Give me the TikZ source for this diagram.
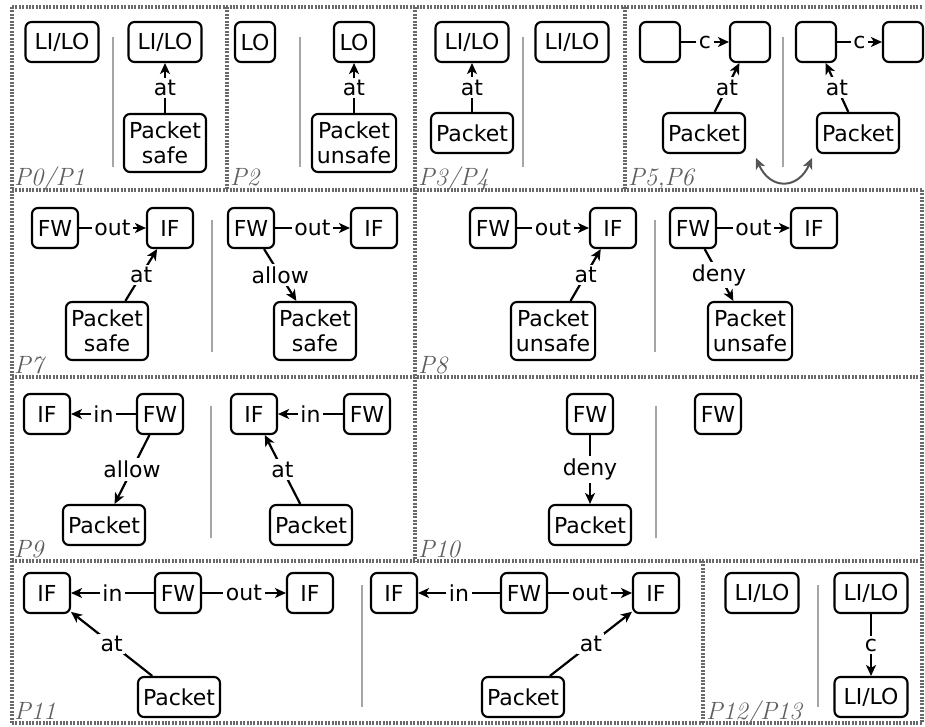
\documentclass[tikz,border=0pt]{standalone}
\usepackage{fontspec}
\newfontfamily\dvs{DejaVu Sans}
\usetikzlibrary{arrows.meta}
\definecolor{framegray}{RGB}{105,105,105}
\definecolor{divgray}{RGB}{165,165,165}
\definecolor{labgray}{RGB}{95,95,95}
\definecolor{swapgray}{RGB}{85,85,85}
\tikzset{
  nbox/.style={draw=black, line width=2.1pt, rounded corners=6pt, fill=white,
    font=\dvs\fontsize{22}{25}\selectfont, align=center,
    inner xsep=5pt, inner ysep=8pt, minimum width=46pt, minimum height=40pt},
  widebox/.style={nbox, minimum width=73pt},
  conn/.style={line width=2.2pt, -{Stealth[length=11pt,width=10pt,inset=3pt]}},
  lbl/.style={fill=white, inner sep=2.5pt, font=\dvs\fontsize{22}{25}\selectfont},
  divider/.style={draw=divgray, line width=1.3pt},
  pframe/.style={draw=framegray, line width=3.2pt, dash pattern=on 2pt off 1.4pt},
  plabel/.style={anchor=base west, text=labgray, inner sep=0pt,
    font=\fontsize{25}{25}\selectfont\itshape},
}
\begin{document}
\begin{tikzpicture}[x=1pt,y=-1pt]
\useasboundingbox (0,0) rectangle (925,727);
% frames
\draw[pframe] (12,7) -- (922,7);
\draw[pframe] (12,7) -- (12,723);
\draw[pframe] (12,723) -- (922,723);
\draw[pframe] (922,190) -- (922,723);
\draw[pframe] (12,190) -- (922,190);
\draw[pframe] (12,377) -- (922,377);
\draw[pframe] (12,561) -- (922,561);
\draw[pframe] (227,7) -- (227,190);
\draw[pframe] (415,7) -- (415,190);
\draw[pframe] (625,7) -- (625,190);
\draw[pframe] (415,190) -- (415,561);
\draw[pframe] (703,561) -- (703,723);
% panel labels
\node[plabel] (l01) at (14,186) {P0/P1};
\node[plabel] (l2) at (230,186) {P2};
\node[plabel] (l34) at (418,186) {P3/P4};
\node[plabel] (l56) at (628,186) {P5,P6};
\node[plabel] (l7) at (14,373) {P7};
\node[plabel] (l8) at (418,373) {P8};
\node[plabel] (l9) at (14,557) {P9};
\node[plabel] (l10) at (418,557) {P10};
\node[plabel] (l11) at (14,719) {P11};
\node[plabel] (l1213) at (706,719) {P12/P13};
% dividers
\draw[divider] (113,37) -- (113,167);
\draw[divider] (300,37) -- (300,167);
\draw[divider] (523,37) -- (523,167);
\draw[divider] (783,37) -- (783,167);
\draw[divider] (212,220) -- (212,352);
\draw[divider] (655,220) -- (655,352);
\draw[divider] (211,406) -- (211,538);
\draw[divider] (656,406) -- (656,538);
\draw[divider] (362,585) -- (362,707);
\draw[divider] (818,585) -- (818,707);
% P0/P1
\node[widebox] (a1) at (62,42) {LI/LO};
\node[widebox] (a2) at (165,42) {LI/LO};
\node[nbox] (a3) at (165,143) {Packet\\safe};
\draw[conn] (a3) -- node[lbl]{at} (a2);
% P2
\node[nbox, minimum width=40pt] (b1) at (255,42) {LO};
\node[nbox, minimum width=40pt] (b2) at (354,42) {LO};
\node[nbox] (b3) at (354,143) {Packet\\unsafe};
\draw[conn] (b3) -- node[lbl]{at} (b2);
% P3/P4
\node[widebox] (c1) at (472,42) {LI/LO};
\node[nbox] (c2) at (472,133) {Packet};
\node[widebox] (c3) at (572,42) {LI/LO};
\draw[conn] (c2) -- node[lbl]{at} (c1);
% P5,P6
\node[nbox, minimum width=40pt] (d1) at (660,42) {};
\node[nbox, minimum width=40pt] (d2) at (750,42) {};
\node[nbox] (d3) at (704,133) {Packet};
\draw[conn] (d1) -- node[lbl]{c} (d2);
\draw[conn] (d3) -- node[lbl]{at} (d2);
\node[nbox, minimum width=40pt] (d4) at (816,42) {};
\node[nbox, minimum width=40pt] (d5) at (903,42) {};
\node[nbox] (d6) at (858,133) {Packet};
\draw[conn] (d4) -- node[lbl]{c} (d5);
\draw[conn] (d6) -- node[lbl]{at} (d4);
\coordinate (sw1) at (756,158);
\coordinate (sw2) at (812,158);
\draw[draw=swapgray, line width=2pt, {Stealth[length=11pt,width=10pt,inset=3pt]}-{Stealth[length=11pt,width=10pt,inset=3pt]}]
  (sw1) .. controls (770,190) and (798,190) .. (sw2);
% P7
\node[nbox] (e1) at (55,228) {FW};
\node[nbox] (e2) at (170,228) {IF};
\node[nbox] (e3) at (107,331) {Packet\\safe};
\draw[conn] (e1) -- node[lbl]{out} (e2);
\draw[conn] (e3) -- node[lbl]{at} (e2);
\node[nbox] (e4) at (251,228) {FW};
\node[nbox] (e5) at (374,228) {IF};
\node[nbox] (e6) at (315,331) {Packet\\safe};
\draw[conn] (e4) -- node[lbl]{out} (e5);
\draw[conn] (e4) -- node[lbl]{allow} (e6);
% P8
\node[nbox] (f1) at (493,228) {FW};
\node[nbox] (f2) at (613,228) {IF};
\node[nbox] (f3) at (553,331) {Packet\\unsafe};
\draw[conn] (f1) -- node[lbl]{out} (f2);
\draw[conn] (f3) -- node[lbl]{at} (f2);
\node[nbox] (f4) at (693,228) {FW};
\node[nbox] (f5) at (814,228) {IF};
\node[nbox] (f6) at (750,331) {Packet\\unsafe};
\draw[conn] (f4) -- node[lbl]{out} (f5);
\draw[conn] (f4) -- node[lbl]{deny} (f6);
% P9
\node[nbox] (g1) at (47,414) {IF};
\node[nbox] (g2) at (160,414) {FW};
\node[nbox] (g3) at (104,525) {Packet};
\draw[conn] (g2) -- node[lbl]{in} (g1);
\draw[conn] (g2) -- node[lbl]{allow} (g3);
\node[nbox] (g4) at (254,414) {IF};
\node[nbox] (g5) at (367,414) {FW};
\node[nbox] (g6) at (311,525) {Packet};
\draw[conn] (g5) -- node[lbl]{in} (g4);
\draw[conn] (g6) -- node[lbl]{at} (g4);
% P10
\node[nbox] (h1) at (590,414) {FW};
\node[nbox] (h2) at (590,525) {Packet};
\draw[conn] (h1) -- node[lbl]{deny} (h2);
\node[nbox] (h3) at (718,414) {FW};
% P11
\node[nbox] (i1) at (47,593) {IF};
\node[nbox] (i2) at (178,593) {FW};
\node[nbox] (i3) at (310,593) {IF};
\node[nbox] (i4) at (179,697) {Packet};
\draw[conn] (i2) -- node[lbl]{in} (i1);
\draw[conn] (i2) -- node[lbl]{out} (i3);
\draw[conn] (i4) -- node[lbl]{at} (i1);
\node[nbox] (i5) at (394,593) {IF};
\node[nbox] (i6) at (524,593) {FW};
\node[nbox] (i7) at (656,593) {IF};
\node[nbox] (i8) at (523,697) {Packet};
\draw[conn] (i6) -- node[lbl]{in} (i5);
\draw[conn] (i6) -- node[lbl]{out} (i7);
\draw[conn] (i8) -- node[lbl]{at} (i7);
% P12/P13
\node[widebox] (j1) at (762,593) {LI/LO};
\node[widebox] (j2) at (871,593) {LI/LO};
\node[widebox] (j3) at (871,697) {LI/LO};
\draw[conn] (j2) -- node[lbl]{c} (j3);
\end{tikzpicture}
\end{document}
